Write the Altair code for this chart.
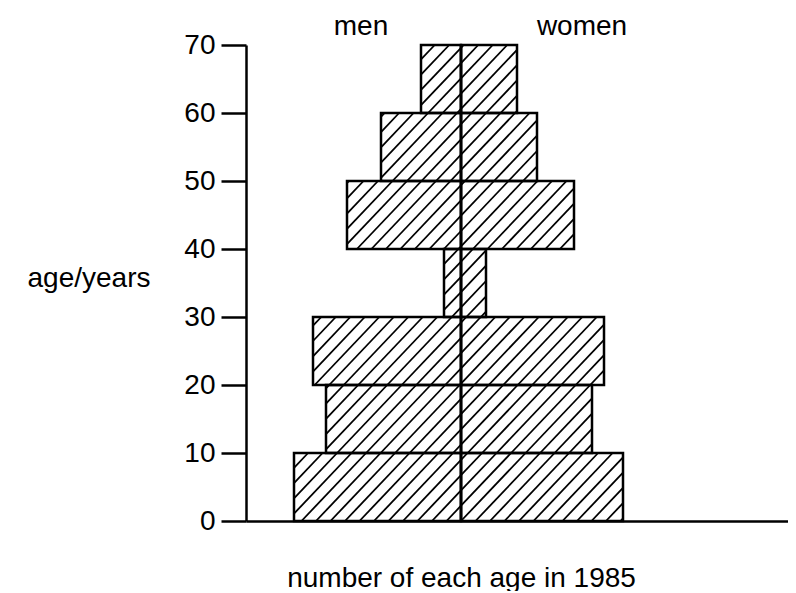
import altair as alt
import pandas as pd
import numpy as np

# Data (arbitrary units of "number")
age_start = [0, 10, 20, 30, 40, 50, 60]
age_end = [10, 20, 30, 40, 50, 60, 70]
men = [167, 135, 148, 17, 114, 80, 40]
women = [162, 131, 143, 25, 113, 76, 56]

X_MIN, X_MAX = -215, 327
W, H = 542, 476
Y_MAX = 70
PX_PER_YEAR = H / Y_MAX
FONT = "Liberation Sans"
FS = 28

bars = pd.DataFrame({
    "x0": [-m for m in men] + [0] * len(women),
    "x1": [0] * len(men) + women,
    "y0": age_start + age_start,
    "y1": age_end + age_end,
})

# hatch segments derived from the bars
k = 0.95      # dx per dy (pixels)
step = 14.5   # horizontal spacing (pixels)
segs = []
for _, r in bars.iterrows():
    xa, xb = r.x0, r.x1
    ya, yb = r.y0 * PX_PER_YEAR, r.y1 * PX_PER_YEAR
    cmin = xa - k * yb
    cmax = xb - k * ya
    c = np.ceil(cmin / step) * step
    while c <= cmax:
        lo = max(ya, (xa - c) / k)
        hi = min(yb, (xb - c) / k)
        if hi - lo > 0.5:
            segs.append({"x": c + k * lo, "x2": c + k * hi,
                         "y": lo / PX_PER_YEAR, "y2": hi / PX_PER_YEAR})
        c += step
hatch = pd.DataFrame(segs)

xs = alt.Scale(domain=[X_MIN, X_MAX], nice=False, zero=False)
ys = alt.Scale(domain=[0, Y_MAX], nice=False)

base_bars = alt.Chart(bars).encode(
    x=alt.X("x0:Q", scale=xs, axis=alt.Axis(
        title="number of each age in 1985", labels=False, ticks=False, grid=False,
        domainColor="black", domainWidth=2.5, titleFontSize=FS,
        titleFont=FONT, titleFontWeight="normal", titleColor="black",
        titleX=215, titleY=57, titleAlign="center", titleBaseline="middle")),
    x2="x1:Q",
    y=alt.Y("y0:Q", scale=ys, axis=alt.Axis(
        title="age/years", values=[0, 10, 20, 30, 40, 50, 60, 70], grid=False,
        domainColor="black", domainWidth=2.5, tickColor="black", tickWidth=2.5,
        tickSize=25, labelFontSize=FS, labelFont=FONT,
        labelColor="black", labelPadding=6, titleFontSize=FS,
        titleFont=FONT, titleFontWeight="normal", titleColor="black",
        titleAngle=0, titleAlign="right", titleBaseline="middle",
        titleX=-96, titleY=233)),
    y2="y1:Q",
)

fill_layer = base_bars.mark_bar(fill="white", strokeWidth=0)
hatch_layer = alt.Chart(hatch).mark_rule(color="black", strokeWidth=1.8).encode(
    x=alt.X("x:Q", scale=xs), x2="x2:Q", y=alt.Y("y:Q", scale=ys), y2="y2:Q")
outline_layer = base_bars.mark_bar(fill="white", fillOpacity=0, stroke="black",
                                   strokeWidth=2.5)

center = pd.DataFrame({"x": [0], "y": [0], "y2": [Y_MAX]})
center_layer = alt.Chart(center).mark_rule(color="black", strokeWidth=2.5).encode(
    x=alt.X("x:Q", scale=xs), y=alt.Y("y:Q", scale=ys), y2="y2:Q")

labels = pd.DataFrame({"text": ["men", "women"], "x": [-100, 121], "y": [72.6, 72.6]})
label_layer = alt.Chart(labels).mark_text(
    fontSize=FS, font=FONT, color="black", baseline="middle",
    align="center").encode(
    x=alt.X("x:Q", scale=xs), y=alt.Y("y:Q", scale=ys), text="text:N")

chart = alt.layer(fill_layer, hatch_layer, outline_layer, center_layer, label_layer).properties(
    width=W, height=H,
    background="white",
    autosize=alt.AutoSizeParams(type="none"),
    padding={"left": 238, "top": 37, "right": 0, "bottom": 70},
).configure_view(strokeWidth=0).configure_axis(grid=False)

chart.save("out.html", embed_options={"renderer": "svg", "actions": False})
